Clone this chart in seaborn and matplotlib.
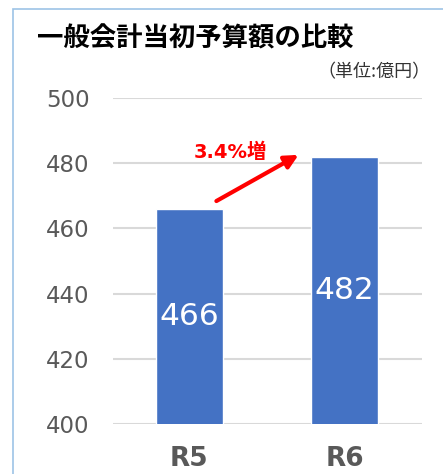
import matplotlib
matplotlib.use("Agg")
import matplotlib.pyplot as plt
import seaborn as sns
import pandas as pd
from matplotlib.patches import Rectangle

years = ["R5", "R6"]
budget = [466, 482]
growth_label = "3.4%増"
title = "一般会計当初予算額の比較"
unit = "（単位:億円）"
yticks = [400, 420, 440, 460, 480, 500]

sns.set_style("white")
plt.rcParams['font.family'] = ['DejaVu Sans', 'Noto Sans CJK JP']
cjk = ['Noto Sans CJK JP', 'DejaVu Sans']

df = pd.DataFrame({"year": years, "budget": budget})

fig = plt.figure(figsize=(4.43, 4.74), dpi=100)
ax = fig.add_axes([0.255, 0.1055, 0.698, 0.6875])

sns.barplot(data=df, x="year", y="budget", color="#4472c4", width=0.43,
            saturation=1, ax=ax, zorder=3)

ax.set_ylim(400, 500)
ax.set_xlim(-0.49, 1.5)
ax.set_yticks(yticks)
ax.yaxis.grid(True, color="#d9d9d9", linewidth=1.5, zorder=0)
ax.set_axisbelow(True)
sns.despine(ax=ax, left=True, bottom=True)
ax.tick_params(axis="y", length=0, pad=17, labelsize=16.5, labelcolor="#595959")
ax.tick_params(axis="x", length=0, pad=16, labelsize=19, labelcolor="#595959")
for lbl in ax.get_xticklabels():
    lbl.set_fontweight("bold")
ax.set_xlabel("")
ax.set_ylabel("")

# value labels inside the bars
for i, v in enumerate(budget):
    ax.text(i, (400 + v) / 2, str(v), ha="center", va="center",
            color="white", fontsize=22.5, zorder=5)

# growth arrow
ax.annotate("", xy=(0.72, budget[1] + 1.0), xytext=(0.16, budget[0] + 2),
            arrowprops=dict(arrowstyle="-|>,head_length=0.8,head_width=0.4",
                            color="#ff0000", lw=3), zorder=6)
ax.text(0.265, budget[1] + 1.3, growth_label, color="#ff0000", fontsize=14,
        fontweight="bold", ha="center", va="center", zorder=6)

fig.text(37 / 443, 1 - 39 / 474, title, fontsize=19, fontweight="bold",
         color="black", ha="left", va="center", family=cjk)
fig.text(431 / 443, 1 - 72 / 474, unit, fontsize=13, color="#333333",
         ha="right", va="center", family=cjk)

# light blue frame
fig.patches.append(Rectangle((13 / 443, -0.1), 1.2, 1.1 - 9 / 474,
                             transform=fig.transFigure, fill=False,
                             edgecolor="#9dc3e6", linewidth=1.2))

fig.savefig("out.png", dpi=100)
